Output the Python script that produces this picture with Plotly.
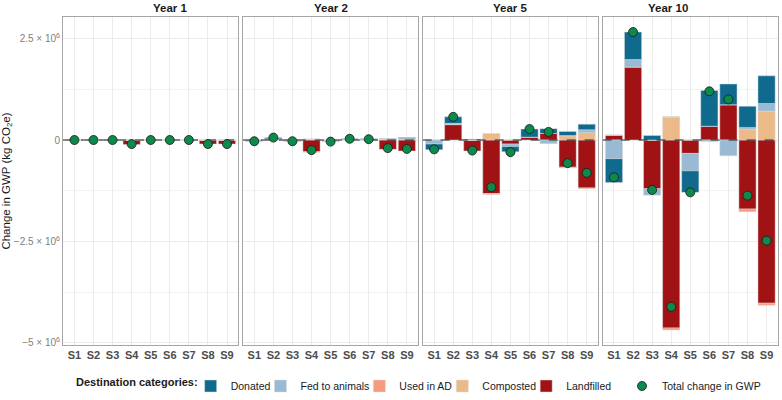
import plotly.graph_objects as go

# ---------------- data (values in kg CO2e, x 1e6) ----------------
scenarios = ["S1", "S2", "S3", "S4", "S5", "S6", "S7", "S8", "S9"]
years = ["Year 1", "Year 2", "Year 5", "Year 10"]

# one row per year (Year 1, Year 2, Year 5, Year 10), one value per scenario
landfilled = [
    [0, 0, 0, -0.11, 0, 0, 0, -0.10, -0.10],
    [0, 0.03, -0.03, -0.29, -0.02, 0.02, 0.02, -0.23, -0.27],
    [0, 0.38, -0.27, -1.32, -0.10, 0.07, 0.16, -0.67, -1.18],
    [0.12, 1.80, -1.20, -4.63, -0.33, 0.34, 0.87, -1.70, -4.02],
]
composted = [
    [0, 0, 0, 0, 0, 0, 0, 0, 0],
    [0, 0, 0, 0.02, 0, 0, 0, 0.02, 0.02],
    [0, 0, 0, 0.16, 0, 0, 0, 0.10, 0.18],
    [0, 0, 0, 0.57, 0, 0, 0, 0.27, 0.71],
]
used_in_ad = [
    [0, 0, 0, 0, 0, 0, 0, 0, 0],
    [0, 0, 0, -0.01, 0, 0, 0, 0, 0],
    [0, 0, 0, -0.02, 0, 0, 0, -0.02, -0.02],
    [0, 0, 0, -0.05, 0, 0, 0, -0.07, -0.05],
]
fed_to_animals = [
    [0, 0, 0, 0, 0, 0, 0, 0, 0],
    [-0.02, 0, 0, 0, -0.01, 0, -0.01, 0.01, 0.02],
    [-0.10, 0.03, 0, 0, -0.06, 0, -0.09, 0.01, 0.07],
    [-0.46, 0.18, -0.16, 0, -0.43, -0.04, -0.39, 0.04, 0.19],
]
donated = [
    [0, 0, 0, 0, 0, 0, 0, 0, 0],
    [-0.01, 0.03, 0, 0, -0.01, 0.01, 0.01, 0.01, 0.02],
    [-0.14, 0.16, 0.02, 0, -0.13, 0.20, 0.12, 0.10, 0.14],
    [-0.59, 0.68, 0.11, 0, -0.53, 0.88, 0.51, 0.52, 0.68],
]
total_change = [
    [0, 0, 0, -0.10, 0, 0, 0, -0.10, -0.10],
    [-0.03, 0.06, -0.03, -0.25, -0.04, 0.03, 0.02, -0.20, -0.22],
    [-0.23, 0.57, -0.26, -1.16, -0.30, 0.27, 0.20, -0.57, -0.81],
    [-0.92, 2.66, -1.23, -4.11, -1.29, 1.20, 1.00, -1.37, -2.48],
]
scale = 1e6

y_tickvals = [-5e6, -2.5e6, 0, 2.5e6]
y_ticktext = ["\u22125 \u00d7 10<sup>6</sup>", "\u22122.5 \u00d7 10<sup>6</sup>", "0",
              "2.5 \u00d7 10<sup>6</sup>"]

# ---------------- styling ----------------
categories = [  # stacking order from zero outward
    ("Landfilled", landfilled, "#A01214", 5),
    ("Composted", composted, "#ECBA88", 4),
    ("Used in AD", used_in_ad, "#F79B7D", 3),
    ("Fed to animals", fed_to_animals, "#98BAD5", 2),
    ("Donated", donated, "#0F6A8E", 1),
]
FONT = "Liberation Sans, Arial, sans-serif"
W, H = 782, 400
L, R, T, B = 63, 4, 17, 55
pw = W - L - R
ph = H - T - B
gap = 4.4 / pw
dw = (1 - 3 * gap) / 4

xs = list(range(1, len(scenarios) + 1))
fig = go.Figure()
layout = {}
for i, yr in enumerate(years):
    sfx = "" if i == 0 else str(i + 1)
    xa, ya = "x" + sfx, "y" + sfx
    for name, vals, col, rank in categories:
        fig.add_trace(go.Bar(
            x=xs, y=[v * scale for v in vals[i]], name=name, xaxis=xa, yaxis=ya,
            marker=dict(color=col, line=dict(color="rgba(220,220,220,0.8)", width=0.6)),
            width=0.9, legendgroup=name, showlegend=(i == 0), legendrank=rank,
        ))
    fig.add_trace(go.Scatter(
        x=[0.4, 9.6], y=[0, 0], mode="lines", xaxis=xa, yaxis=ya,
        line=dict(color="#222222", width=1, dash="dash"), showlegend=False, hoverinfo="skip",
    ))
    fig.add_trace(go.Scatter(
        x=xs, y=[v * scale for v in total_change[i]], mode="markers", name="Total change in GWP",
        xaxis=xa, yaxis=ya, legend="legend2",
        marker=dict(color="#0B8A4C", size=9, line=dict(color="#1a1a1a", width=0.8)),
        showlegend=(i == 0),
    ))
    d0 = i * (dw + gap)
    layout["xaxis" + sfx] = dict(
        domain=[d0, d0 + dw], anchor=ya, range=[0.4, 9.6], tickmode="array",
        tickvals=xs, ticktext=scenarios, showgrid=True, gridcolor="#EBEBEB", gridwidth=1,
        zeroline=False, showline=True, mirror=True, linecolor="#A6A6A6", linewidth=1,
        ticks="", tickfont=dict(family=FONT, size=11, color="#4D4D4D", weight="bold"),
    )
    layout["yaxis" + sfx] = dict(
        anchor=xa, range=[-5.05e6, 3.03e6], tickmode="array", tickvals=y_tickvals,
        ticktext=y_ticktext, showticklabels=(i == 0), showgrid=True, gridcolor="#EBEBEB",
        gridwidth=1, zeroline=False, showline=True, mirror=True, linecolor="#A6A6A6",
        linewidth=1, ticks="", tickfont=dict(family=FONT, size=10, color="#808080"),
        minor=dict(tickvals=[-3.75e6, -1.25e6, 1.25e6], showgrid=True, gridcolor="#F3F3F3",
                   gridwidth=1),
    )
    fig.add_annotation(
        x=d0 + dw / 2, y=1, xref="paper", yref="paper", yanchor="bottom", yshift=1,
        text="<b>" + yr + "</b>", showarrow=False,
        font=dict(family=FONT, size=11.5, color="#1A1A1A"),
    )

layout["yaxis"]["title"] = dict(text="Change in GWP (kg CO<sub>2</sub>e)",
                                font=dict(family=FONT, size=11.5, color="#1A1A1A"), standoff=6)

leg_y = -(386 - (H - B)) / ph
fig.update_layout(
    **layout,
    barmode="relative",
    width=W, height=H,
    margin=dict(l=L, r=R, t=T, b=B, autoexpand=False),
    paper_bgcolor="white", plot_bgcolor="white",
    font=dict(family=FONT, size=11, color="#1A1A1A"),
    legend=dict(
        orientation="h", x=(74 - L) / pw, xanchor="left", y=leg_y, yanchor="middle",
        title=dict(text="<b>Destination categories:</b>", side="left",
                   font=dict(family=FONT, size=11, color="#1A1A1A")),
        font=dict(family=FONT, size=10.5, color="#1A1A1A"), bgcolor="rgba(0,0,0,0)",
        itemwidth=30, tracegroupgap=0, indentation=-15,
    ),
    legend2=dict(
        orientation="h", x=(637 - L) / pw, xanchor="left", y=leg_y, yanchor="middle",
        font=dict(family=FONT, size=10.5, color="#1A1A1A"), bgcolor="rgba(0,0,0,0)",
        itemwidth=30, indentation=-15,
    ),
)

fig.write_html("out.html")
